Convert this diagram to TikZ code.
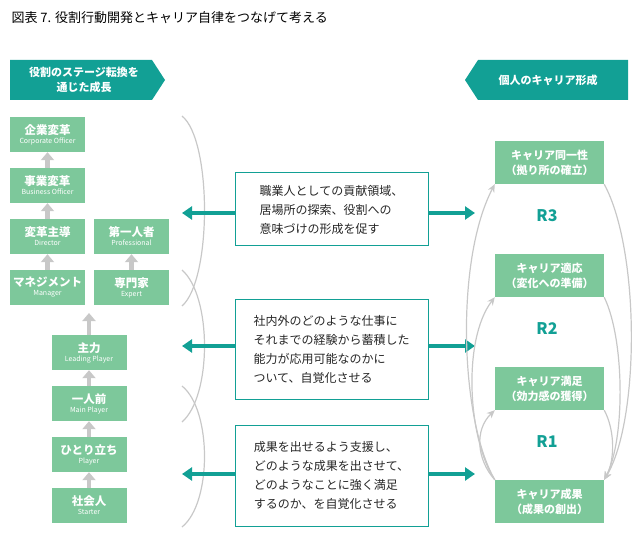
\documentclass[tikz,border=0pt]{standalone}
\usepackage{fontspec}
\setmainfont{Noto Sans CJK JP}
\usetikzlibrary{arrows.meta}
\definecolor{gbox}{HTML}{7DC89B}
\definecolor{teal}{HTML}{12A095}
\definecolor{lg}{HTML}{C8C8C8}
\begin{document}
\begin{tikzpicture}[x=1pt,y=-1pt,
 st/.style={fill=gbox,text=white,minimum width=75pt,minimum height=35pt,inner sep=0pt,align=center,font=\fontsize{11.5}{12}\selectfont\bfseries},
 rt/.style={fill=gbox,text=white,minimum width=109pt,minimum height=43pt,inner sep=0pt,align=center,font=\fontsize{11}{15}\selectfont\bfseries},
 mb/.style={draw=teal,line width=1pt,minimum width=193pt,align=left,font=\fontsize{12}{19}\selectfont,text=black!85},
 up/.style={lg,line width=4.5pt,-{Triangle[length=8pt,width=13pt]}},
 ta/.style={teal,line width=3.5pt,-{Triangle[length=10pt,width=13pt]}},
 br/.style={lg,line width=1.2pt},
 cu/.style={lg,line width=1.2pt,-{Stealth[length=8pt,width=7pt]}}]
\newcommand{\en}[1]{\\[-3pt]{\fontsize{7}{8}\selectfont\mdseries #1}}
\useasboundingbox (0,0) rectangle (640,548);
\node[anchor=west,font=\fontsize{13}{15}\selectfont] (title) at (8,18) {図表 7. 役割行動開発とキャリア自律をつなげて考える};
\fill[teal] (10,60) -- (152,60) -- (165,80) -- (152,100) -- (10,100) -- cycle;
\node[text=white,font=\fontsize{11}{15}\selectfont\bfseries,align=center] (lh) at (84,80) {役割のステージ転換を\\通じた成長};
\fill[teal] (478,60) -- (628,60) -- (628,100) -- (478,100) -- (465,80) -- cycle;
\node[text=white,font=\fontsize{11}{15}\selectfont\bfseries] (rh) at (548,80) {個人のキャリア形成};
% left stages
\node[st] (a1) at (47.5,134.5) {企業変革\en{Corporate Officer}};
\node[st] (a2) at (47.5,185.5) {事業変革\en{Business Officer}};
\node[st] (a3) at (47.5,236.5) {変革主導\en{Director}};
\node[st] (a4) at (47.5,287.5) {マネジメント\en{Manager}};
\node[st] (b1) at (131.5,236.5) {第一人者\en{Professional}};
\node[st] (b2) at (131.5,287.5) {専門家\en{Expert}};
\node[st] (c1) at (89,352.5) {主力\en{Leading Player}};
\node[st] (c2) at (89,403.5) {一人前\en{Main Player}};
\node[st] (c3) at (89,454.5) {ひとり立ち\en{Player}};
\node[st] (c4) at (89,505.5) {社会人\en{Starter}};
\coordinate (cb) at (89,313);
\draw[up] (a4.north) -- (a3.south);
\draw[up] (a3.north) -- (a2.south);
\draw[up] (a2.north) -- (a1.south);
\draw[up] (b2.north) -- (b1.south);
\draw[up] (c4.north) -- (c3.south);
\draw[up] (c3.north) -- (c2.south);
\draw[up] (c2.north) -- (c1.south);
\draw[up] (c1.north) -- (cb);
% brackets
\draw[br] (182,116) .. controls (212,140) and (212,280) .. (182,306);
\draw[br] (182,270) .. controls (212,296) and (212,396) .. (182,422);
\draw[br] (182,386) .. controls (212,410) and (212,503) .. (182,527);
% middle boxes
\node[mb,minimum height=73pt] (m1) at (331.5,209.5) {職業人としての貢献領域、\\居場所の探索、役割への\\意味づけの形成を促す};
\node[mb,minimum height=100pt] (m2) at (331.5,349) {社内外のどのような仕事に\\それまでの経験から蓄積した\\能力が応用可能なのかに\\ついて、自覚化させる};
\node[mb,minimum height=101pt] (m3) at (331.5,475.5) {成果を出せるよう支援し、\\どのような成果を出させて、\\どのようなことに強く満足\\するのか、を自覚化させる};
\coordinate (l1) at (182,213); \coordinate (r1) at (475,213);
\coordinate (l2) at (182,346); \coordinate (r2) at (475,346);
\coordinate (l3) at (182,474); \coordinate (r3) at (475,474);
\draw[ta] (m1.west|-l1) -- (l1); \draw[ta] (m1.east|-r1) -- (r1);
\draw[ta] (m2.west|-l2) -- (l2); \draw[ta] (m2.east|-r2) -- (r2);
\draw[ta] (m3.west|-l3) -- (l3); \draw[ta] (m3.east|-r3) -- (r3);
% right
\node[rt] (d1) at (549.5,162.5) {キャリア同一性\\（拠り所の確立）};
\node[rt] (d2) at (549.5,275.5) {キャリア適応\\（変化への準備）};
\node[rt] (d3) at (549.5,388.5) {キャリア満足\\（効力感の獲得）};
\node[rt] (d4) at (549.5,501.5) {キャリア成果\\（成果の創出）};
\foreach \n/\y in {R3/216,R2/329,R1/442}
  \node[text=teal,font=\fontsize{16}{18}\selectfont\bfseries] (lab\n) at (547,\y) {\n};
\draw[cu] (d4.north west) .. controls (460,420) and (455,260) .. (d1.south west);
\draw[cu] (d4.north west) .. controls (468,440) and (462,340) .. (d2.south west);
\draw[cu] (d4.north west) .. controls (477,460) and (474,430) .. (d3.south west);
\draw[cu] (d1.south east) .. controls (640,250) and (640,420) .. (d4.north east);
\draw[cu] (d2.south east) .. controls (625,340) and (625,440) .. (d4.north east);
\draw[cu] (d3.south east) .. controls (615,430) and (615,460) .. (d4.north east);
\end{tikzpicture}
\end{document}
